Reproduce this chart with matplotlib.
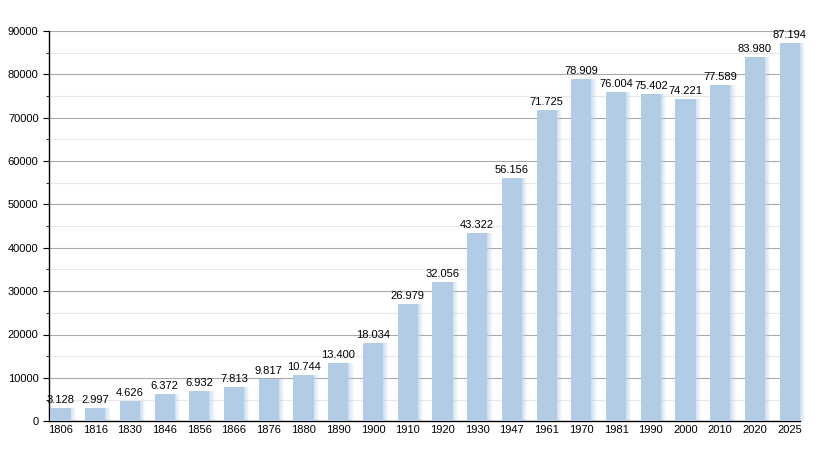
import matplotlib.pyplot as plt
import numpy as np

years = ['1806', '1816', '1830', '1846', '1856', '1866', '1876', '1880', '1890', '1900', '1910',
         '1920', '1930', '1947', '1961', '1970', '1981', '1990', '2000', '2010', '2020', '2025']
population = [3128, 2997, 4626, 6372, 6932, 7813, 9817, 10744, 13400, 18034, 26979,
              32056, 43322, 56156, 71725, 78909, 76004, 75402, 74221, 77589, 83980, 87194]

plt.rcParams['font.family'] = ['Liberation Sans', 'DejaVu Sans']

fig = plt.figure(figsize=(8.3, 4.5), dpi=100)
ax = fig.add_axes([0.059, 0.064, 0.905, 0.867])

x = np.arange(len(years))
bar_w = 0.58
bar_color = '#b2cce6'

# soft blurred edge to the right of each bar
for k in range(6):
    shadow = ax.bar(x + bar_w / 2 + 0.025 * k + 0.0125, population, width=0.025,
                    color=bar_color, alpha=0.6 - 0.1 * k, zorder=2, linewidth=0)
    for p in shadow:
        p.set_clip_on(False)
ax.bar(x, population, width=bar_w, color=bar_color, zorder=3, linewidth=0)

for xi, v in zip(x, population):
    label = f"{v:,}".replace(',', '.')
    ax.text(xi, v + 700, label, ha='center', va='bottom', fontsize=8, color='black', zorder=4)

ax.set_xlim(-0.33, 21.3)
ax.set_ylim(0, 90000)
ax.set_xticks(x)
ax.set_xticklabels(years)
ax.set_yticks(np.arange(0, 90001, 10000))
ax.set_yticks(np.arange(5000, 90000, 10000), minor=True)
ax.tick_params(axis='both', labelsize=8, colors='black')
ax.tick_params(axis='x', length=0, pad=3)
ax.tick_params(axis='y', which='major', length=4, direction='out')
ax.tick_params(axis='y', which='minor', length=2.5, direction='out')

ax.grid(axis='y', which='major', color='#aaaaaa', linewidth=0.8, zorder=0)
ax.grid(axis='y', which='minor', color='#e8e8e8', linewidth=0.8, zorder=0)
ax.set_axisbelow(True)

for s in ['top', 'right']:
    ax.spines[s].set_visible(False)
ax.spines['left'].set_linewidth(1.0)
ax.spines['bottom'].set_linewidth(1.0)

fig.savefig('out.png', dpi=100)
